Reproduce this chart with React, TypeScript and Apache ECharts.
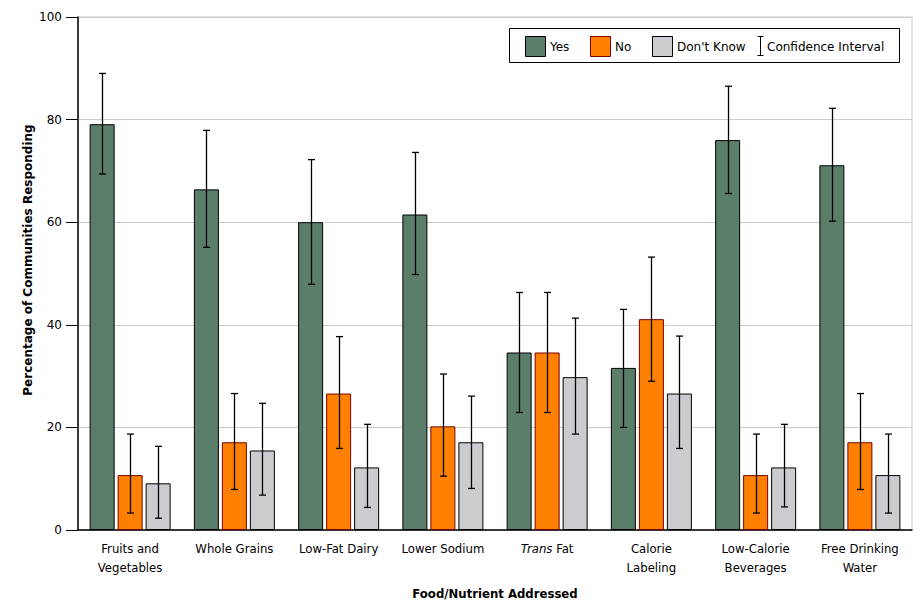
import React, { useEffect, useRef } from "react";
import * as echarts from "echarts";

const categories = [
  "Fruits and\nVegetables",
  "Whole Grains",
  "Low-Fat Dairy",
  "Lower Sodium",
  "Trans Fat",
  "Calorie\nLabeling",
  "Low-Calorie\nBeverages",
  "Free Drinking\nWater",
];
const seriesNames = ["Yes", "No", "Don't Know"];
const yesValues = [79.1, 66.4, 60.0, 61.5, 34.6, 31.6, 76.0, 71.1];
const yesLow = [69.4, 55.1, 47.9, 49.8, 22.9, 20.0, 65.6, 60.2];
const yesHigh = [89.0, 77.9, 72.2, 73.6, 46.3, 43.0, 86.5, 82.2];
const noValues = [10.7, 17.1, 26.6, 20.2, 34.6, 41.1, 10.7, 17.1];
const noLow = [3.3, 7.9, 15.9, 10.5, 22.9, 29.0, 3.3, 7.9];
const noHigh = [18.7, 26.6, 37.7, 30.4, 46.3, 53.2, 18.7, 26.6];
const dkValues = [9.1, 15.5, 12.2, 17.1, 29.8, 26.6, 12.2, 10.7];
const dkLow = [2.3, 6.8, 4.4, 8.1, 18.7, 15.9, 4.5, 3.3];
const dkHigh = [16.3, 24.7, 20.6, 26.1, 41.3, 37.8, 20.6, 18.7];
const yTicks = [0, 20, 40, 60, 80, 100];
const yAxisTitle = "Percentage of Communities Responding";
const xAxisTitle = "Food/Nutrient Addressed";
const ciLabel = "Confidence Interval";

const COLORS = ["#5b7e6a", "#ff8000", "#cccbd0"];
const BORDERS = ["#000000", "#7a0000", "#000000"];
const FONT = "'DejaVu Sans', Verdana, sans-serif";
const FONT_COND = "'DejaVu Sans Condensed', 'DejaVu Sans', sans-serif";

export default function App() {
  const ref = useRef<HTMLDivElement>(null);
  useEffect(() => {
    document.body.style.margin = "0";
    if (!ref.current) return;
    const chart = echarts.init(ref.current, null, { renderer: "svg" });
    const values = [yesValues, noValues, dkValues];
    const lows = [yesLow, noLow, dkLow];
    const highs = [yesHigh, noHigh, dkHigh];
    const errData: number[][] = [];
    for (let s = 0; s < 3; s++) {
      for (let i = 0; i < categories.length; i++) {
        errData.push([i, s, lows[s][i], highs[s][i]]);
      }
    }
    const barWidth = 25;
    const barGapPx = 3;
    const legendX = 509;
    const legendY = 28;
    const sw = 20;
    const swatchItems = [
      { x: 525, label: "Yes" },
      { x: 590, label: "No" },
      { x: 652, label: "Don't Know" },
    ];
    const graphicEls: any[] = [
      {
        type: "rect",
        shape: { x: legendX + 0.5, y: legendY + 0.5, width: 390, height: 34 },
        style: { fill: "#fff", stroke: "#000", lineWidth: 1 },
        z: 10,
      },
      {
        type: "text",
        x: 28,
        y: 260,
        rotation: Math.PI / 2,
        style: {
          text: yAxisTitle,
          font: `bold 12px ${FONT}`,
          fill: "#000",
          align: "center",
          verticalAlign: "middle",
        },
        z: 11,
      },
    ];
    swatchItems.forEach((it, k) => {
      graphicEls.push({
        type: "rect",
        shape: { x: it.x + 0.5, y: 36.5, width: sw, height: sw },
        style: { fill: COLORS[k], stroke: BORDERS[k], lineWidth: 1 },
        z: 11,
      });
      graphicEls.push({
        type: "text",
        x: it.x + sw + 5,
        y: 46.5,
        style: {
          text: seriesNames[k],
          font: `12px ${FONT}`,
          fill: "#000",
          verticalAlign: "middle",
        },
        z: 11,
      });
    });
    const cx = 760.5;
    graphicEls.push(
      { type: "line", shape: { x1: cx, y1: 36, x2: cx, y2: 56 }, style: { stroke: "#000", lineWidth: 1 }, z: 11 },
      { type: "line", shape: { x1: cx - 3, y1: 36.5, x2: cx + 3, y2: 36.5 }, style: { stroke: "#000", lineWidth: 1 }, z: 11 },
      { type: "line", shape: { x1: cx - 3, y1: 55.5, x2: cx + 3, y2: 55.5 }, style: { stroke: "#000", lineWidth: 1 }, z: 11 },
      {
        type: "text",
        x: 767,
        y: 46.5,
        style: { text: ciLabel, font: `12px ${FONT}`, fill: "#000", verticalAlign: "middle" },
        z: 11,
      }
    );

    chart.setOption({
      animation: false,
      backgroundColor: "#fff",
      grid: {
        left: 78,
        right: 8,
        top: 17,
        bottom: 76,
        show: true,
        borderColor: "#cccccc",
        borderWidth: 1,
      },
      xAxis: {
        type: "category",
        data: categories,
        axisLine: { lineStyle: { color: "#000", width: 1.5 } },
        axisTick: { show: false },
        axisLabel: {
          interval: 0,
          margin: 9,
          color: "#000",
          fontFamily: FONT_COND,
          fontSize: 13,
          lineHeight: 19,
          formatter: (v: string) => (v === "Trans Fat" ? "{i|Trans} Fat" : v),
          rich: {
            i: { fontStyle: "italic", fontFamily: FONT_COND, fontSize: 13, color: "#000" },
          },
        },
        name: xAxisTitle,
        nameLocation: "middle",
        nameGap: 57,
        nameTextStyle: { fontFamily: FONT_COND, fontSize: 13, fontWeight: "bold", color: "#000" },
      },
      yAxis: {
        type: "value",
        min: yTicks[0],
        max: yTicks[yTicks.length - 1],
        interval: 20,
        axisLine: { show: true, lineStyle: { color: "#000", width: 1.5 } },
        axisTick: { show: true, length: 12, lineStyle: { color: "#000" } },
        axisLabel: { margin: 16, color: "#000", fontFamily: FONT, fontSize: 12 },
        splitLine: { lineStyle: { color: "#cccccc", width: 1 } },
      },
      series: [
        ...seriesNames.map((n, k) => ({
          name: n,
          type: "bar",
          data: values[k],
          barWidth,
          barGap: `${(barGapPx / barWidth) * 100}%`,
          itemStyle: { color: COLORS[k], borderColor: BORDERS[k], borderWidth: 1 },
          z: 2,
        })),
        {
          name: ciLabel,
          type: "custom",
          z: 5,
          data: errData,
          encode: { x: 0, y: [2, 3] },
          renderItem: (params: any, api: any) => {
            const cat = api.value(0);
            const s = api.value(1);
            const lo = api.coord([cat, api.value(2)]);
            const hi = api.coord([cat, api.value(3)]);
            const x = Math.round(lo[0] + (s - 1) * (barWidth + barGapPx)) + 0.5;
            const half = 3.5;
            const st = { stroke: "#000", lineWidth: 1.3 };
            return {
              type: "group",
              children: [
                { type: "line", shape: { x1: x, y1: hi[1], x2: x, y2: lo[1] }, style: st },
                { type: "line", shape: { x1: x - half, y1: hi[1], x2: x + half, y2: hi[1] }, style: st },
                { type: "line", shape: { x1: x - half, y1: lo[1], x2: x + half, y2: lo[1] }, style: st },
              ],
            };
          },
        },
      ],
      graphic: graphicEls,
    });
    return () => chart.dispose();
  }, []);
  return <div ref={ref} style={{ width: 920, height: 606 }} />;
}
